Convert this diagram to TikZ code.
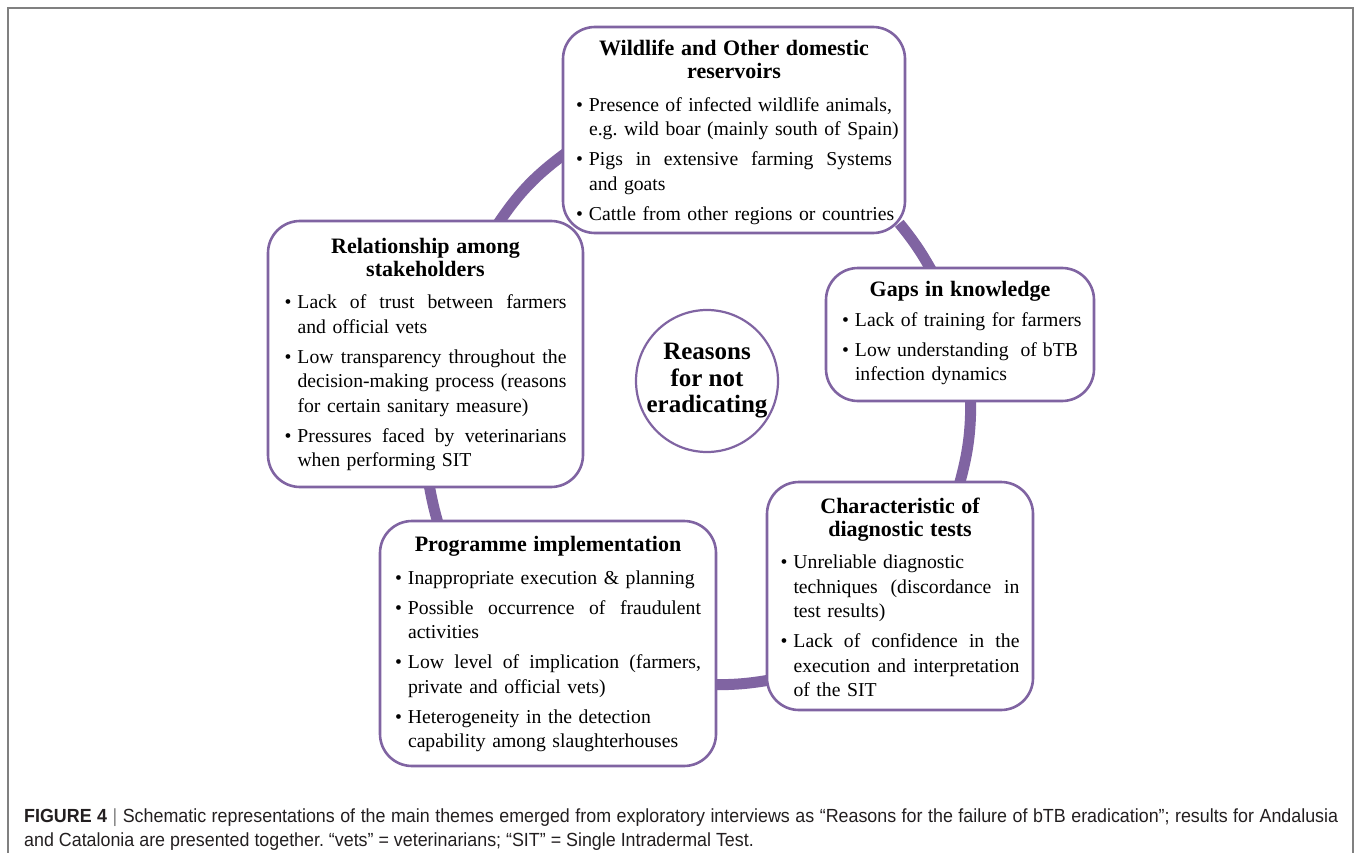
\documentclass[tikz,border=0pt]{standalone}
\usepackage{fontspec}
\setmainfont{Liberation Serif}
\newfontfamily\capfont[FakeStretch=0.94]{Liberation Sans}
\usetikzlibrary{calc,backgrounds}
\definecolor{purp}{RGB}{128,100,162}
\definecolor{framegray}{RGB}{128,128,128}
\definecolor{captxt}{RGB}{35,31,32}
\frenchspacing
\newcommand\jsp{\spaceskip=\fontdimen2\font plus 1fil\relax}
\newcommand\BJ[1]{\hbox to \linewidth{\jsp\strut\hbox to 13pt{\textbullet\hss}#1}}
\newcommand\BN[1]{\hbox to \linewidth{\strut\hbox to 13pt{\textbullet\hss}#1\hfil}}
\newcommand\CJ[1]{\hbox to \linewidth{\jsp\strut\hskip13pt #1}}
\newcommand\CN[1]{\hbox to \linewidth{\strut\hskip13pt #1\hfil}}
\newcommand\TT[1]{\hbox to \linewidth{\hfil\fontsize{22}{23}\bfseries\selectfont #1\hfil}}
\newcommand\TTT[2]{\TT{#1}\vskip-1.5pt\TT{#2}}
\newcommand\igap{\vskip5.5pt}
\newcommand\tgap{\vskip8pt}
\begin{document}
\begin{tikzpicture}[x=1pt,y=-1pt,
  box/.style={draw=purp, line width=2.6pt, rounded corners=32pt, fill=white,
    inner sep=0pt, font=\fontsize{19.7}{24.5}\selectfont},
  conn/.style={draw=purp, line width=11pt, line cap=butt},
  hub/.style={draw=purp, line width=2.2pt, circle, minimum size=142pt, inner sep=0pt,
    align=center, font=\fontsize{25}{26.5}\bfseries\selectfont},
  captionline/.style={anchor=base west, inner sep=0pt, text=captxt,
    font=\capfont\fontsize{19}{24}\selectfont}]
\useasboundingbox (0,0) rectangle (1356,853);
\draw[framegray, line width=2pt] (8,853) -- (8,8) -- (1353,8) -- (1353,853);

\node[box, minimum width=342pt, minimum height=206pt, text width=316pt] (wild) at (734,130) {%
\TTT{Wildlife and Other domestic}{reservoirs}\tgap
\BJ{Presence of infected wildlife animals,}
\CN{e.g. wild boar (mainly south of Spain)}\igap
\BJ{Pigs in extensive farming Systems}
\CN{and goats}\igap
\BN{Cattle from other regions or countries}\kern-8pt};

\node[box, minimum width=315pt, minimum height=266pt, text width=282pt] (rel) at (425.5,354) {%
\TTT{Relationship among}{stakeholders}\tgap
\BJ{Lack of trust between farmers}
\CN{and official vets}\igap
\BJ{Low transparency throughout the}
\CJ{decision-making process (reasons}
\CN{for certain sanitary measure)}\igap
\BJ{Pressures faced by veterinarians}
\CN{when performing SIT}\kern-4pt};

\node[box, minimum width=268pt, minimum height=133pt, text width=236pt] (gaps) at (960,334.5) {%
\TT{Gaps in knowledge}\vskip5.5pt
\BN{Lack of training for farmers}\igap
\BJ{Low understanding\ \ of bTB}
\CN{infection dynamics}};

\node[box, minimum width=266pt, minimum height=228pt, text width=239pt] (char) at (900,596) {%
\TTT{Characteristic of}{diagnostic tests}\tgap
\BN{Unreliable diagnostic}
\CJ{techniques (discordance in}
\CN{test results)}\igap
\BJ{Lack of confidence in the}
\CJ{execution and interpretation}
\CN{of the SIT}\kern-10pt};

\node[box, minimum width=336pt, minimum height=245pt, text width=306pt] (prog) at (548,643.5) {%
\TT{Programme implementation}\tgap
\BN{Inappropriate execution \& planning}\igap
\BJ{Possible occurrence of fraudulent}
\CN{activities}\igap
\BJ{Low level of implication (farmers,}
\CN{private and official vets)}\igap
\BN{Heterogeneity in the detection}
\CN{capability among slaughterhouses}\kern-5pt};

\node[hub] (hub) at (707,381) {Reasons\\for not\\eradicating};

\begin{pgfonlayer}{background}
\fill[white] (0,0) rectangle (1356,853);
\draw[conn] ([shift={(230,6)}]rel.north west) to[bend left=10] ([shift={(6,126)}]wild.north west);
\draw[conn] ([shift={(-7,-11)}]wild.south east) to[bend left=5] ([shift={(108,6)}]gaps.north west);
\draw[conn] ([shift={(146,-6)}]gaps.south west) to[bend left=8] ([shift={(193,6)}]char.north west);
\draw[conn] ([shift={(6,199)}]char.north west) to[bend left=5] ([shift={(-6,165)}]prog.north east);
\draw[conn] ([shift={(60,6)}]prog.north west) to[bend left=3] ([shift={(162,-6)}]rel.south west);
\end{pgfonlayer}

\node[captionline] (cap1) at (24,822) {\hbox to 1314pt{\textbf{FIGURE 4} \textcolor{framegray}{|} Schematic representations of the main themes emerged from exploratory interviews as “Reasons for the failure of bTB eradication”; results for Andalusia}};
\node[captionline] (cap2) at (24,846) {and Catalonia are presented together. “vets” = veterinarians; “SIT” = Single Intradermal Test.};
\end{tikzpicture}
\end{document}
